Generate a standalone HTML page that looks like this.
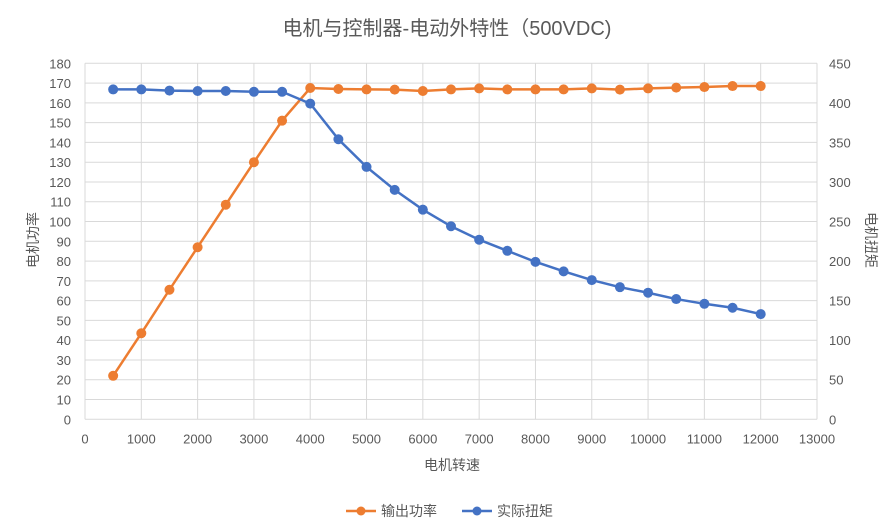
<!DOCTYPE html>
<html><head><meta charset="utf-8"><style>
body{margin:0;background:#fff;}
svg text{font-family:"Liberation Sans","Noto Sans CJK SC",sans-serif;fill:#595959;}
</style></head><body>
<svg id="c" width="890" height="526" xmlns="http://www.w3.org/2000/svg">
<rect x="0" y="0" width="890" height="526" fill="#fff"/>
<text x="447" y="35" text-anchor="middle" font-size="20">电机与控制器-电动外特性（500VDC)</text>
<g id="grid"></g><g id="axes"></g><g id="series"></g>
<text x="452" y="470" text-anchor="middle" font-size="14">电机转速</text>
<text transform="translate(38,240) rotate(-90)" text-anchor="middle" font-size="14">电机功率</text>
<text transform="translate(866,240) rotate(90)" text-anchor="middle" font-size="14">电机扭矩</text>
<g><line x1="346" y1="511" x2="376" y2="511" stroke="#ED7D31" stroke-width="2.5"/><circle cx="361" cy="511" r="4.5" fill="#ED7D31"/><text x="381" y="516" font-size="14">输出功率</text></g>
<g><line x1="462" y1="511" x2="492" y2="511" stroke="#4472C4" stroke-width="2.5"/><circle cx="477" cy="511" r="4.5" fill="#4472C4"/><text x="497" y="516" font-size="14">实际扭矩</text></g>
</svg>
<script>
const speeds=[500,1000,1500,2000,2500,3000,3500,4000,4500,5000,5500,6000,6500,7000,7500,8000,8500,9000,9500,10000,10500,11000,11500,12000];
const power=[22,43.5,65.5,87,108.5,130,151,167.5,167,166.8,166.7,166,166.8,167.3,166.8,166.8,166.8,167.3,166.7,167.3,167.7,168,168.5,168.5];
const torque=[417,417,415.5,415,415,414,414,399,354,319,290,265,244,227,213,199,187,176,167,160,152,146,141,133];
const xTicks=[0,1000,2000,3000,4000,5000,6000,7000,8000,9000,10000,11000,12000,13000];
const yTicks=[0,10,20,30,40,50,60,70,80,90,100,110,120,130,140,150,160,170,180];
const y2Ticks=[0,50,100,150,200,250,300,350,400,450];
const L=85,R=817,T=63.3,B=419.3,NS='http://www.w3.org/2000/svg';
const X=v=>L+v/13000*(R-L), Y=v=>B-v/180*(B-T), Y2=v=>B-v/450*(B-T);
function mk(p,t,a){const e=document.createElementNS(NS,t);for(const k in a)e.setAttribute(k,a[k]);document.getElementById(p).appendChild(e);return e;}
yTicks.forEach(v=>{
 const l=mk('grid','line',{x1:L,x2:R,y1:Y(v),y2:Y(v),stroke:'#d9d9d9'});
 
 
 const t=mk('axes','text',{x:L-14,y:Y(v)+5,'text-anchor':'end','font-size':13});t.textContent=v;
 
 
});
xTicks.forEach(v=>{
 const l=mk('grid','line',{x1:X(v),x2:X(v),y1:T,y2:B,stroke:'#d9d9d9'});
 
 
 const t=mk('axes','text',{x:X(v),y:B+24,'text-anchor':'middle','font-size':13});t.textContent=v;
 
 
});
y2Ticks.forEach(v=>{
 const t=mk('axes','text',{x:R+12,y:Y2(v)+5,'text-anchor':'start','font-size':13});t.textContent=v;
 
 
});
function series(vals,fy,col,name){
 const p=mk('series','polyline',{points:speeds.map((s,i)=>X(s)+','+fy(vals[i])).join(' '),fill:'none',stroke:col,'stroke-width':2.5});
 
 
 speeds.forEach((s,i)=>{const c=mk('series','circle',{cx:X(s),cy:fy(vals[i]),r:5,fill:col});
 
 });
}
series(power,Y,'#ED7D31','power');
series(torque,Y2,'#4472C4','torque');
</script>
</body></html>
